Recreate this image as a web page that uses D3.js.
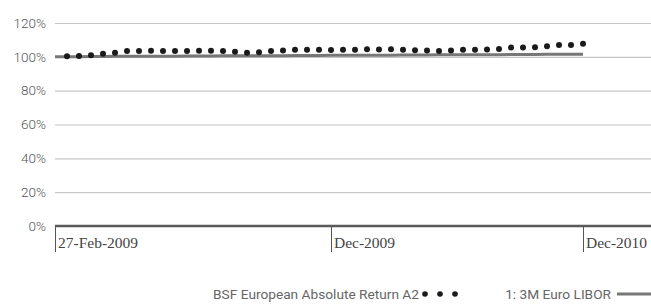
<!DOCTYPE html>
<html>
<head>
<meta charset="utf-8">
<script src="https://cdn.jsdelivr.net/npm/d3@7/dist/d3.min.js"></script>
<style>
  body { margin: 0; background: #fff; }
  svg { display: block; }
  .y-axis text { font-family: Roboto, sans-serif; font-weight: 300; font-size: 13.5px; fill: #555; }
  .x-label { font-family: "Liberation Serif", serif; font-size: 15.5px; fill: #444; }
  .legend { font-family: Roboto, sans-serif; font-size: 13.7px; fill: #666; }
</style>
</head>
<body>
<div id="chartContainer"></div>
<script>
// Dimensions
const width = 651;
const height = 305;
const plot = { left: 55, right: 651, top: 23, bottom: 226 };

// Data (cumulative performance, % of start value)
const xTickIndex = [0, 23, 44];
const xTickLabels = ['27-Feb-2009', 'Dec-2009', 'Dec-2010'];
const yTicks = [0, 20, 40, 60, 80, 100, 120];
// fund starts one period after the base date
const fundValues = [null,
  100.3, 100.5, 101.0, 101.8, 102.4, 103.4, 103.4, 103.6, 103.5, 103.5,
  103.4, 103.6, 103.6, 103.5, 103.0, 102.4, 102.7, 103.4, 103.7, 104.2,
  104.2, 104.2, 104.0, 104.2, 104.2, 104.5, 104.4, 104.5, 104.2, 103.9,
  103.7, 103.5, 103.7, 104.2, 104.2, 104.4, 104.7, 105.5, 105.5, 105.6,
  106.2, 107.0, 107.0, 107.8];
const liborValues = [
  100.0, 100.1, 100.1, 100.2, 100.2, 100.3, 100.3, 100.3, 100.4, 100.4,
  100.4, 100.5, 100.5, 100.5, 100.6, 100.6, 100.6, 100.7, 100.7, 100.7,
  100.8, 100.8, 100.8, 100.9, 100.9, 100.9, 101.0, 101.0, 101.0, 101.1,
  101.1, 101.1, 101.2, 101.2, 101.2, 101.3, 101.3, 101.3, 101.4, 101.4,
  101.4, 101.5, 101.5, 101.6, 101.6];
const seriesNames = ['BSF European Absolute Return A2', '1: 3M Euro LIBOR'];

const svg = d3
  .select('#chartContainer')
  .append('svg')
  .attr('width', width)
  .attr('height', height);

// Scales
const x = d3.scaleLinear().domain([0, 44]).range([plot.left, 583]);
const y = d3.scaleLinear().domain([0, 120]).range([plot.bottom, plot.top]);

// Y axis with gridlines
const yAxis = d3.axisLeft(y)
  .tickValues(yTicks)
  .tickSize(-(plot.right - plot.left))
  .tickPadding(9)
  .tickFormat(d => d + '%');

svg.append('g')
  .attr('class', 'y-axis')
  .attr('transform', `translate(${plot.left},0)`)
  .call(yAxis)
  .call(g => g.select('.domain').remove())
  .call(g => g.selectAll('.tick line').attr('stroke', '#c6c6c6').attr('stroke-width', 1.2))
  .call(g => g.selectAll('.tick').filter(d => d === 0).select('line').remove());

// X axis line and ticks
svg.append('line')
  .attr('x1', plot.left)
  .attr('x2', plot.right)
  .attr('y1', y(0))
  .attr('y2', y(0))
  .attr('stroke', '#5a5a5a')
  .attr('stroke-width', 2.5);

const xTicks = svg.selectAll('.x-tick')
  .data(xTickIndex)
  .enter()
  .append('g')
  .attr('class', 'x-tick')
  .attr('transform', d => `translate(${x(d)},${y(0)})`);
xTicks.append('line')
  .attr('x1', 0.5).attr('x2', 0.5)
  .attr('y1', 0).attr('y2', 26)
  .attr('stroke', '#555')
  .attr('stroke-width', 1);
xTicks.append('text')
  .attr('class', 'x-label')
  .attr('x', 3)
  .attr('y', 22)
  .text((d, i) => xTickLabels[i]);

// LIBOR line
const line = d3.line()
  .x((d, i) => x(i))
  .y(d => y(d));
svg.append('path')
  .attr('d', line(liborValues))
  .attr('fill', 'none')
  .attr('stroke', '#777')
  .attr('stroke-width', 3);

// Fund dots
svg.selectAll('.dots')
  .data(fundValues.map((v, i) => ({ i, v })).filter(d => d.v !== null))
  .enter()
  .append('circle')
  .attr('class', 'dots')
  .attr('r', 3)
  .attr('cx', d => x(d.i))
  .attr('cy', d => y(d.v))
  .attr('fill', '#1a1a1a');

// Legend
const legendY = 294;
svg.append('text')
  .attr('class', 'legend')
  .attr('x', 419)
  .attr('y', legendY)
  .attr('dy', '0.35em')
  .attr('text-anchor', 'end')
  .text(seriesNames[0]);
svg.selectAll('.legend-dot')
  .data([425, 440, 455])
  .enter()
  .append('circle')
  .attr('class', 'legend-dot')
  .attr('cx', d => d)
  .attr('cy', legendY)
  .attr('r', 2.8)
  .attr('fill', '#1a1a1a');
svg.append('text')
  .attr('class', 'legend')
  .attr('x', 611)
  .attr('y', legendY)
  .attr('dy', '0.35em')
  .attr('text-anchor', 'end')
  .text(seriesNames[1]);
svg.append('line')
  .attr('x1', 617)
  .attr('x2', 651)
  .attr('y1', legendY)
  .attr('y2', legendY)
  .attr('stroke', '#777')
  .attr('stroke-width', 3);
</script>
</body>
</html>
